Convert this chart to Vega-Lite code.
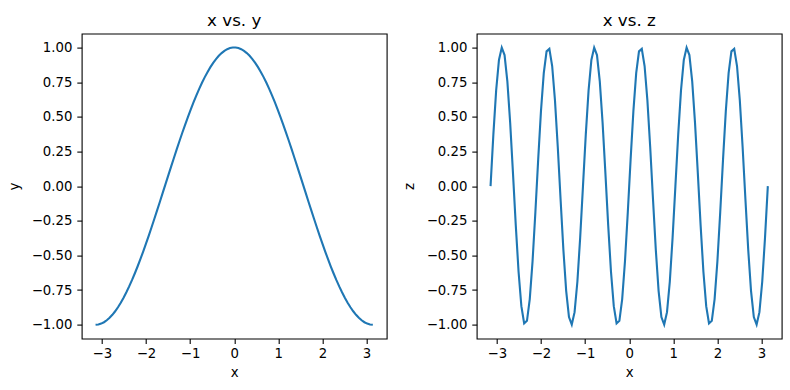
{
  "$schema": "https://vega.github.io/schema/vega-lite/v6.json",
  "background": "white",
  "padding": {"left": 5.7, "top": 11.6, "right": 5, "bottom": 5},
  "data": {"values": [
    {"x": -3.1416, "y": -1, "z": 0},
    {"x": -3.0781, "y": -0.99799, "z": 0.37166},
    {"x": -3.0147, "y": -0.99195, "z": 0.69008},
    {"x": -2.9512, "y": -0.98193, "z": 0.90963},
    {"x": -2.8877, "y": -0.96795, "z": 0.99887},
    {"x": -2.8243, "y": -0.95007, "z": 0.945},
    {"x": -2.7608, "y": -0.92837, "z": 0.75575},
    {"x": -2.6973, "y": -0.90293, "z": 0.45823},
    {"x": -2.6339, "y": -0.87385, "z": 0.09506},
    {"x": -2.5704, "y": -0.84125, "z": -0.28173},
    {"x": -2.5069, "y": -0.80527, "z": -0.61816},
    {"x": -2.4435, "y": -0.76604, "z": -0.86603},
    {"x": -2.38, "y": -0.72374, "z": -0.98982},
    {"x": -2.3165, "y": -0.67852, "z": -0.97181},
    {"x": -2.2531, "y": -0.63055, "z": -0.81457},
    {"x": -2.1896, "y": -0.58006, "z": -0.54064},
    {"x": -2.1261, "y": -0.52723, "z": -0.18925},
    {"x": -2.0627, "y": -0.47227, "z": 0.18925},
    {"x": -1.9992, "y": -0.41542, "z": 0.54064},
    {"x": -1.9357, "y": -0.35689, "z": 0.81457},
    {"x": -1.8723, "y": -0.29692, "z": 0.97181},
    {"x": -1.8088, "y": -0.23576, "z": 0.98982},
    {"x": -1.7453, "y": -0.17365, "z": 0.86603},
    {"x": -1.6819, "y": -0.11084, "z": 0.61816},
    {"x": -1.6184, "y": -0.04758, "z": 0.28173},
    {"x": -1.5549, "y": 0.01587, "z": -0.09506},
    {"x": -1.4915, "y": 0.07925, "z": -0.45823},
    {"x": -1.428, "y": 0.14231, "z": -0.75575},
    {"x": -1.3645, "y": 0.20481, "z": -0.945},
    {"x": -1.3011, "y": 0.26647, "z": -0.99887},
    {"x": -1.2376, "y": 0.32707, "z": -0.90963},
    {"x": -1.1741, "y": 0.38635, "z": -0.69008},
    {"x": -1.1107, "y": 0.44407, "z": -0.37166},
    {"x": -1.0472, "y": 0.5, "z": 0},
    {"x": -0.9837, "y": 0.55392, "z": 0.37166},
    {"x": -0.9203, "y": 0.60561, "z": 0.69008},
    {"x": -0.8568, "y": 0.65486, "z": 0.90963},
    {"x": -0.7933, "y": 0.70148, "z": 0.99887},
    {"x": -0.7299, "y": 0.74526, "z": 0.945},
    {"x": -0.6664, "y": 0.78606, "z": 0.75575},
    {"x": -0.6029, "y": 0.82367, "z": 0.45823},
    {"x": -0.5395, "y": 0.85799, "z": 0.09506},
    {"x": -0.476, "y": 0.88885, "z": -0.28173},
    {"x": -0.4125, "y": 0.91611, "z": -0.61816},
    {"x": -0.3491, "y": 0.93969, "z": -0.86603},
    {"x": -0.2856, "y": 0.95949, "z": -0.98982},
    {"x": -0.2221, "y": 0.97543, "z": -0.97181},
    {"x": -0.1587, "y": 0.98744, "z": -0.81457},
    {"x": -0.0952, "y": 0.99547, "z": -0.54064},
    {"x": -0.0317, "y": 0.9995, "z": -0.18925},
    {"x": 0.0317, "y": 0.9995, "z": 0.18925},
    {"x": 0.0952, "y": 0.99547, "z": 0.54064},
    {"x": 0.1587, "y": 0.98744, "z": 0.81457},
    {"x": 0.2221, "y": 0.97543, "z": 0.97181},
    {"x": 0.2856, "y": 0.95949, "z": 0.98982},
    {"x": 0.3491, "y": 0.93969, "z": 0.86603},
    {"x": 0.4125, "y": 0.91611, "z": 0.61816},
    {"x": 0.476, "y": 0.88885, "z": 0.28173},
    {"x": 0.5395, "y": 0.85799, "z": -0.09506},
    {"x": 0.6029, "y": 0.82367, "z": -0.45823},
    {"x": 0.6664, "y": 0.78606, "z": -0.75575},
    {"x": 0.7299, "y": 0.74526, "z": -0.945},
    {"x": 0.7933, "y": 0.70148, "z": -0.99887},
    {"x": 0.8568, "y": 0.65486, "z": -0.90963},
    {"x": 0.9203, "y": 0.60561, "z": -0.69008},
    {"x": 0.9837, "y": 0.55392, "z": -0.37166},
    {"x": 1.0472, "y": 0.5, "z": 0},
    {"x": 1.1107, "y": 0.44407, "z": 0.37166},
    {"x": 1.1741, "y": 0.38635, "z": 0.69008},
    {"x": 1.2376, "y": 0.32707, "z": 0.90963},
    {"x": 1.3011, "y": 0.26647, "z": 0.99887},
    {"x": 1.3645, "y": 0.20481, "z": 0.945},
    {"x": 1.428, "y": 0.14231, "z": 0.75575},
    {"x": 1.4915, "y": 0.07925, "z": 0.45823},
    {"x": 1.5549, "y": 0.01587, "z": 0.09506},
    {"x": 1.6184, "y": -0.04758, "z": -0.28173},
    {"x": 1.6819, "y": -0.11084, "z": -0.61816},
    {"x": 1.7453, "y": -0.17365, "z": -0.86603},
    {"x": 1.8088, "y": -0.23576, "z": -0.98982},
    {"x": 1.8723, "y": -0.29692, "z": -0.97181},
    {"x": 1.9357, "y": -0.35689, "z": -0.81457},
    {"x": 1.9992, "y": -0.41542, "z": -0.54064},
    {"x": 2.0627, "y": -0.47227, "z": -0.18925},
    {"x": 2.1261, "y": -0.52723, "z": 0.18925},
    {"x": 2.1896, "y": -0.58006, "z": 0.54064},
    {"x": 2.2531, "y": -0.63055, "z": 0.81457},
    {"x": 2.3165, "y": -0.67852, "z": 0.97181},
    {"x": 2.38, "y": -0.72374, "z": 0.98982},
    {"x": 2.4435, "y": -0.76604, "z": 0.86603},
    {"x": 2.5069, "y": -0.80527, "z": 0.61816},
    {"x": 2.5704, "y": -0.84125, "z": 0.28173},
    {"x": 2.6339, "y": -0.87385, "z": -0.09506},
    {"x": 2.6973, "y": -0.90293, "z": -0.45823},
    {"x": 2.7608, "y": -0.92837, "z": -0.75575},
    {"x": 2.8243, "y": -0.95007, "z": -0.945},
    {"x": 2.8877, "y": -0.96795, "z": -0.99887},
    {"x": 2.9512, "y": -0.98193, "z": -0.90963},
    {"x": 3.0147, "y": -0.99195, "z": -0.69008},
    {"x": 3.0781, "y": -0.99799, "z": -0.37166},
    {"x": 3.1416, "y": -1, "z": 0}
  ]},
  "config": {
    "font": "DejaVu Sans",
    "view": {"stroke": "black", "strokeWidth": 1.1},
    "axis": {
      "grid": false,
      "domain": false,
      "ticks": true,
      "tickColor": "black",
      "tickSize": 4.9,
      "tickWidth": 1.1,
      "labelColor": "black",
      "labelFont": "DejaVu Sans",
      "labelFontSize": 13.3,
      "titleFont": "DejaVu Sans",
      "titleFontSize": 13.3,
      "titleFontWeight": "normal",
      "titleColor": "black"
    },
    "axisX": {"titlePadding": 5, "labelPadding": 3.5},
    "axisY": {"titlePadding": 10, "labelPadding": 4.9},
    "title": {"fontSize": 16.7, "fontWeight": "normal", "color": "black", "font": "DejaVu Sans", "offset": 4, "baseline": "alphabetic"},
    "concat": {"spacing": 13}
  },
  "hconcat": [
    {
      "width": 305,
      "height": 305,
      "title": "x vs. y",
      "mark": {"type": "line", "color": "#1f77b4", "strokeWidth": 2.1},
      "encoding": {
        "x": {"field": "x", "type": "quantitative", "scale": {"domain": [-3.4558, 3.4558], "nice": false, "zero": false}, "axis": {"values": [-3, -2, -1, 0, 1, 2, 3], "format": "d", "title": "x"}},
        "y": {"field": "y", "type": "quantitative", "scale": {"domain": [-1.1, 1.1], "nice": false, "zero": false}, "axis": {"values": [-1, -0.75, -0.5, -0.25, 0, 0.25, 0.5, 0.75, 1], "format": ".2f", "title": "y"}}
      }
    },
    {
      "width": 305,
      "height": 305,
      "title": "x vs. z",
      "mark": {"type": "line", "color": "#1f77b4", "strokeWidth": 2.1},
      "encoding": {
        "x": {"field": "x", "type": "quantitative", "scale": {"domain": [-3.4558, 3.4558], "nice": false, "zero": false}, "axis": {"values": [-3, -2, -1, 0, 1, 2, 3], "format": "d", "title": "x"}},
        "y": {"field": "z", "type": "quantitative", "scale": {"domain": [-1.1, 1.1], "nice": false, "zero": false}, "axis": {"values": [-1, -0.75, -0.5, -0.25, 0, 0.25, 0.5, 0.75, 1], "format": ".2f", "title": "z"}}
      }
    }
  ]
}
